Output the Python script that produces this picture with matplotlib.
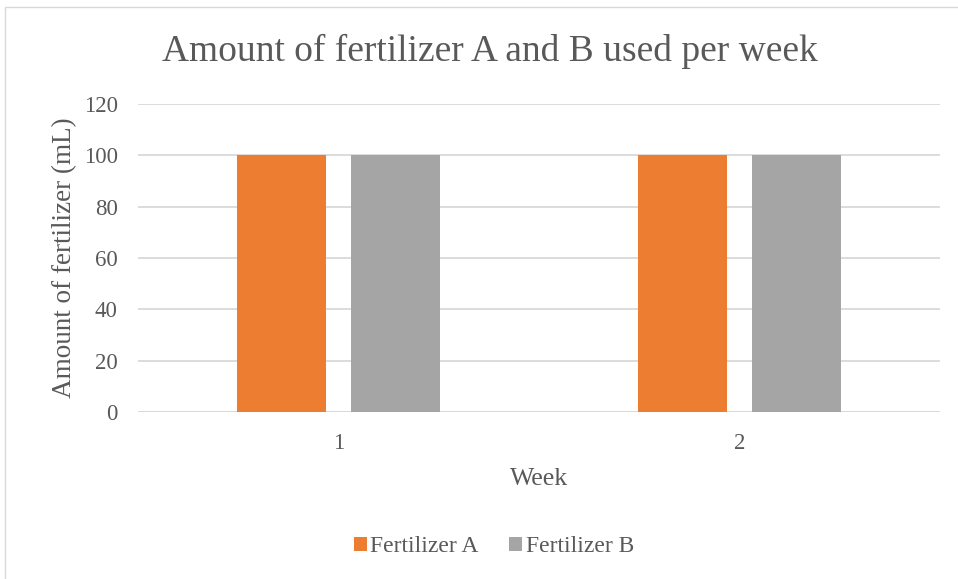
import matplotlib
matplotlib.use("Agg")
import numpy as np
from matplotlib import pyplot as plt
from matplotlib.patches import Rectangle

weeks = ["1", "2"]
fert_a = [100, 100]
fert_b = [100, 100]
series = ["Fertilizer A", "Fertilizer B"]
colors = ["#ED7D31", "#A5A5A5"]

plt.rcParams['font.family'] = ['Liberation Serif', 'DejaVu Serif']
txt = "#595959"

fig = plt.figure(figsize=(9.58, 5.79), dpi=100)
ax = fig.add_axes([138/958, 1 - 412/579, (940-138)/958, (412-104)/579])

x = np.arange(len(weeks))
w = 0.224
off = 0.142
ax.bar(x - off, fert_a, w, color=colors[0], label=series[0], zorder=3)
ax.bar(x + off, fert_b, w, color=colors[1], label=series[1], zorder=3)

ax.set_xlim(-0.5, len(weeks) - 0.5)
ax.set_ylim(0, 120)
ax.set_yticks(range(0, 121, 20))
ax.set_xticks(x)
ax.set_xticklabels(weeks)
ax.grid(axis='y', color="#D9D9D9", lw=1.3, zorder=0)
for s in ax.spines.values():
    s.set_visible(False)
ax.axhline(0, color="#D9D9D9", lw=1.3, zorder=1)
ax.tick_params(length=0, labelsize=16.5, colors=txt)
ax.tick_params(axis='y', pad=14.5)
ax.tick_params(axis='x', pad=15)

ax.set_ylabel("Amount of fertilizer (mL)", fontsize=19.5, color=txt, labelpad=5)
ax.set_xlabel("Week", fontsize=18.5, color=txt, labelpad=10)
fig.text(490/958, 1 - 51/579, "Amount of fertilizer A and B used per week",
         fontsize=27, color=txt, ha='center', va='center')

leg = fig.legend(loc='center', bbox_to_anchor=(494/958, 1 - 547/579), ncol=2,
                 frameon=False, fontsize=17, handlelength=0.55, handleheight=0.55,
                 handletextpad=0.15, columnspacing=1.3)
for t in leg.get_texts():
    t.set_color(txt)

fig.patches.append(Rectangle((5/958, -0.1), 2, 1 - 7/579 + 0.1, transform=fig.transFigure,
                             fill=False, edgecolor="#D9D9D9", lw=1))

fig.savefig("out.png", dpi=100)
